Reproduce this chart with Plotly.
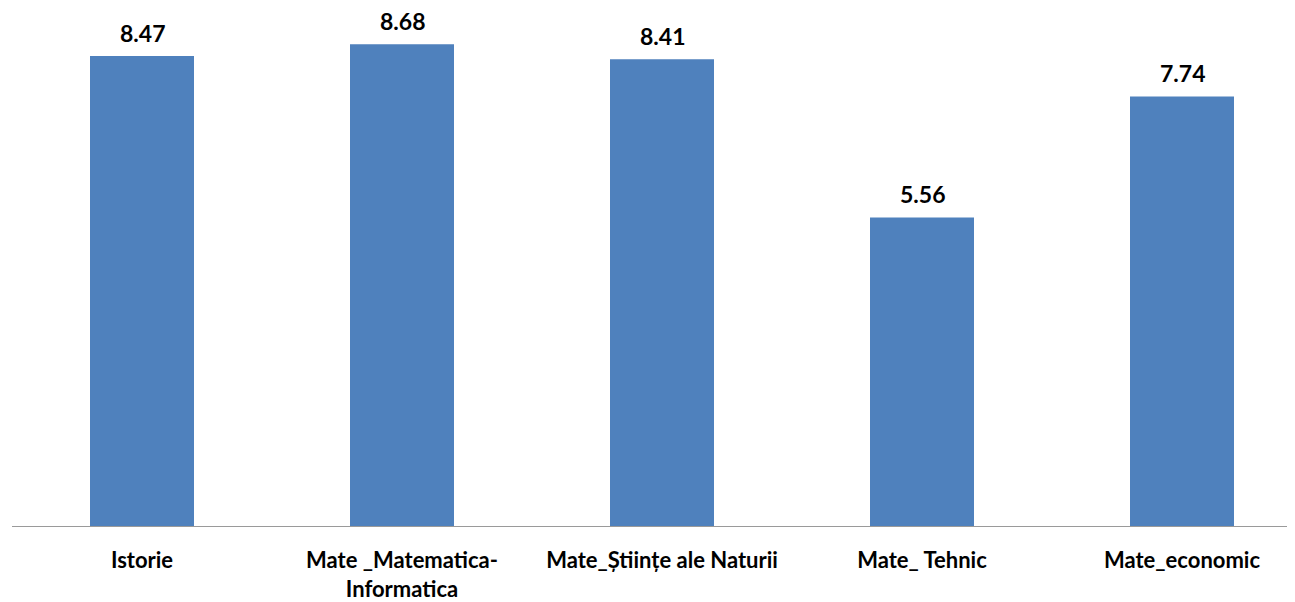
import plotly.graph_objects as go

categories = ["Istorie", "Mate _Matematica-<br>Informatica", "Mate_Științe ale Naturii", "Mate_ Tehnic", "Mate_economic"]
values = [8.47, 8.68, 8.41, 5.56, 7.74]
value_labels = ["8.47", "8.68", "8.41", "5.56", "7.74"]

fig = go.Figure(go.Bar(
    x=categories, y=values,
    marker=dict(color="#4F81BD", line=dict(width=0)),
    width=0.4,
))
for c, v, t in zip(categories, values, value_labels):
    fig.add_annotation(x=c, y=v, text=t, showarrow=False, yanchor="bottom", yshift=8,
                       borderpad=0,
                       font=dict(family="Lato", size=23, color="#000000", weight="bold"))
fig.update_layout(
    width=1287, height=594,
    margin=dict(l=4, r=0, t=0, b=72),
    paper_bgcolor="white", plot_bgcolor="white",
    showlegend=False,
    xaxis=dict(range=[-0.5, 4.4346], showline=True, linecolor="#9A9A9A", linewidth=1,
               ticks="", tickfont=dict(family="Lato", size=22, color="#000000", weight="bold"),
               ticklabelstandoff=15),
    yaxis=dict(range=[0, 9.333], visible=False),
)
fig.write_html("out.html")
